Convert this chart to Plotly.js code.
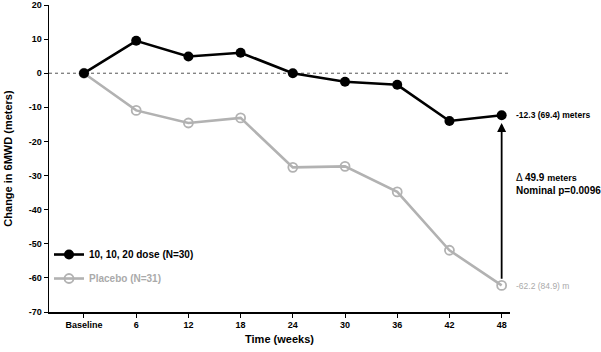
<!DOCTYPE html>
<html><head><meta charset="utf-8">
<script src="https://cdn.plot.ly/plotly-3.0.1.min.js"></script>
<style>body{margin:0}#c{width:601px;height:352px}</style>
</head><body><div id="c"></div>
<script>
var categories = ['Baseline','6','12','18','24','30','36','42','48'];
var doseValues = [0, 9.5, 4.9, 6.0, 0.0, -2.5, -3.4, -14.0, -12.3];
var placeboValues = [0, -10.9, -14.6, -13.1, -27.6, -27.3, -34.8, -51.9, -62.2];
var yTicks = [20,10,0,-10,-20,-30,-40,-50,-60,-70];
var doseName = '10, 10, 20 dose (N=30)';
var placeboName = 'Placebo (N=31)';
var doseLabel = '-12.3 (69.4) meters';
var placeboLabel = '-62.2 (84.9) m';
var deltaLabel = '\u0394 <b>49.9</b> <b><span style="font-size:9px">meters</span></b><br><b>Nominal p=0.0096</b>';

var idx = categories.map(function(_, i){ return i; });
var last = categories.length - 1;
var FONT = 'Liberation Sans, Arial, sans-serif';

var traces = [
  {x: idx, y: placeboValues, name: '<b><span style="color:#aaaaaa">' + placeboName + '</span></b>', mode: 'lines+markers', legendgroup: 'b', legendrank: 2,
   line: {color: '#b2b2b2', width: 2.6}, marker: {color: '#b2b2b2', size: 9, symbol: 'circle-open', line: {color: '#b2b2b2', width: 1.8}}},
  {x: idx, y: doseValues, name: '<b>' + doseName + '</b>', mode: 'lines+markers', legendgroup: 'a', legendrank: 1,
   line: {color: '#000', width: 2.6}, marker: {color: '#000', size: 10}}
];

var layout = {
  width: 601, height: 352,
  margin: {l: 49, r: 91, t: 5, b: 40},
  paper_bgcolor: '#fff', plot_bgcolor: '#fff',
  font: {family: FONT, size: 9, color: '#000'},
  showlegend: true,
  legend: {x: 0.0, y: 0.2345, xanchor: 'left', yanchor: 'top', font: {size: 10, family: FONT, color: '#000'},
           bgcolor: 'rgba(0,0,0,0)', tracegroupgap: 5, itemwidth: 30, traceorder: 'grouped'},
  xaxis: {range: [-0.67, 8.16], tickvals: idx, ticktext: categories.map(function(c){return '<b>'+c+'</b>';}),
          showgrid: false, zeroline: false, showline: true, linecolor: '#000', linewidth: 1.5,
          ticks: 'outside', ticklen: 4, tickcolor: '#000', tickfont: {size: 9},
          title: {text: '<b>Time (weeks)</b>', font: {size: 11}, standoff: 6}},
  yaxis: {range: [-70, 20], tickvals: yTicks, ticktext: yTicks.map(function(v){return '<b>'+v+'</b>';}),
          showgrid: false, zeroline: false, showline: true, linecolor: '#000', linewidth: 1.5,
          ticks: 'outside', ticklen: 4, tickcolor: '#000', tickfont: {size: 9},
          title: {text: '<b>Change in 6MWD (meters)</b>', font: {size: 11}, standoff: 14}},
  shapes: [
    {type: 'line', xref: 'paper', x0: 0, x1: 1, yref: 'y', y0: 0, y1: 0,
     line: {color: '#555', width: 1, dash: 'dot'}, layer: 'below'}
  ],
  annotations: [
    {x: last, y: doseValues[last] - 2.3, ax: last, ay: placeboValues[last] + 1.5, xref: 'x', yref: 'y', axref: 'x', ayref: 'y',
     showarrow: true, arrowhead: 2, arrowsize: 1, arrowwidth: 1.8, arrowcolor: '#000', text: ''},
    {x: last, y: doseValues[last], xref: 'x', yref: 'y', xanchor: 'left', xshift: 12, showarrow: false,
     text: '<b>' + doseLabel + '</b>', font: {size: 8.5, color: '#000'}},
    {x: last, y: placeboValues[last], xref: 'x', yref: 'y', xanchor: 'left', xshift: 12, showarrow: false, yshift: -1,
     text: placeboLabel, font: {size: 8.5, color: '#aaaaaa'}},
    {x: last, y: -32.5, xref: 'x', yref: 'y', xanchor: 'left', xshift: 12, showarrow: false,
     align: 'left', text: deltaLabel, font: {size: 10, color: '#000'}}
  ]
};

Plotly.newPlot('c', traces, layout, {displayModeBar: false, staticPlot: true});
</script>
</body></html>
